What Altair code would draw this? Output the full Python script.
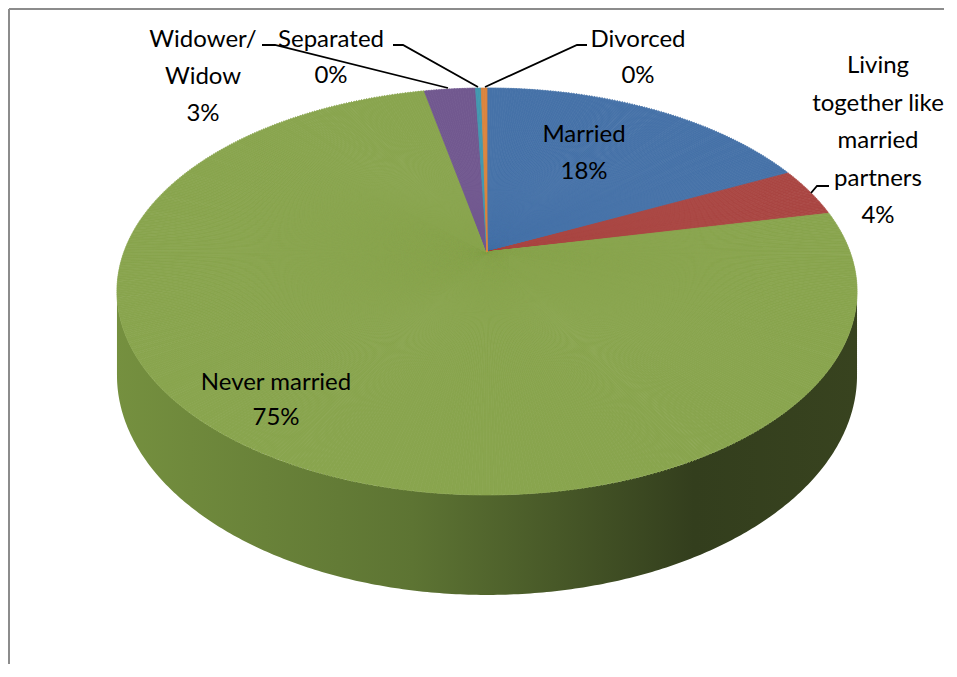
import numpy as np
import pandas as pd
import altair as alt

# ---------------- data ----------------
categories = ["Married", "Living together like married partners", "Never married",
              "Widower/ Widow", "Separated", "Divorced"]
values = [17.8, 3.9, 75.0, 2.7, 0.3, 0.3]
pct_labels = ["18%", "4%", "75%", "3%", "0%", "0%"]
label_lines = [["Married"], ["Living", "together like", "married", "partners"],
               ["Never married"], ["Widower/", "Widow"], ["Separated"], ["Divorced"]]

# ---------------- style / layout ----------------
colors = ["#4672a8", "#aa4643", "#89a54e", "#71588f", "#4198af", "#db843d"]
APEX_X, APEX_Y = 487.0, 252.0      # projected centre of the pie
RX, RY, PERSP = 363.0, 195.8, 0.194  # ellipse radii and perspective factor
DEPTH = 80.6                        # thickness of the 3-D pie
label_anchor = [(584, 142), (878, 73), (276, 390), (203, 47), (331, 47), (638, 47)]
label_lh = [37, 37.5, 35, 37, 36, 36]
leaders = [
    [(262, 45), (275, 45), (448, 88)],
    [(393, 45), (403, 45), (478, 87)],
    [(587, 45), (577, 45), (485, 87)],
    [(811, 193), (817, 186), (829, 186)],
]
FONT = "Lato"
FSIZE = 24
W, H = 936, 656

XS = alt.Scale(domain=[8, 8 + W], zero=False, nice=False)
YS = alt.Scale(domain=[8, 8 + H], zero=False, nice=False, reverse=True)


def project(phi_deg):
    p = np.radians(phi_deg)
    u, v = np.sin(p), np.cos(p)
    den = 1 + PERSP * v
    return APEX_X + RX * u / den, APEX_Y - RY * v / den, v


def screen_angle(x, y):
    return np.degrees(np.arctan2(x - APEX_X, -(y - APEX_Y))) % 360


# ---- top face wedges ----
total = float(sum(values))
cum = np.concatenate([[0.0], np.cumsum(values)]) / total * 360.0
rows = []
for i, cat in enumerate(categories):
    a0, a1 = cum[i], cum[i + 1]
    n = max(2, int(np.ceil((a1 - a0) / 0.5)))
    edges = np.linspace(a0, a1, n + 1)
    for e0, e1 in zip(edges[:-1], edges[1:]):
        x0, y0, _ = project(e0)
        x1, y1, _ = project(e1)
        xm, ym, _ = project((e0 + e1) / 2)
        t0 = 0.0 if e0 <= 1e-9 else screen_angle(x0, y0)
        t1 = 360.0 if e1 >= 360 - 1e-9 else screen_angle(x1, y1)
        r = float(np.hypot(xm - APEX_X, ym - APEX_Y))
        rows.append({"cat": cat, "t0": t0, "t1": t1, "r": r, "ax": APEX_X, "ay": APEX_Y})
wedges = pd.DataFrame(rows)

# ---- side wall (visible front part) ----
phi_s = np.degrees(np.arccos(-PERSP))
phis = np.linspace(phi_s, 360 - phi_s, 300)
sx, sy, sv = project(phis)
side = pd.DataFrame({"x": sx, "ytop": sy, "ybot": sy + DEPTH / (1 + PERSP * sv)})

# ---- labels ----
trows = []
for i, lines in enumerate(label_lines):
    lx, ly = label_anchor[i]
    for j, t in enumerate(lines + [pct_labels[i]]):
        trows.append({"text": t, "x": lx, "y": ly + j * label_lh[i]})
texts = pd.DataFrame(trows)

lrows = []
for k, pts in enumerate(leaders):
    for j, (px, py) in enumerate(pts):
        lrows.append({"lid": k, "ord": j, "x": px, "y": py})
lead = pd.DataFrame(lrows)

frame = pd.DataFrame({"x": [9, 9], "y": [9, 9], "x2": [9, 960], "y2": [680, 9]})

cscale = alt.Scale(domain=categories, range=colors)

side_layer = alt.Chart(side).mark_area(
    orient="vertical",
    color=alt.Gradient(
        gradient="linear",
        stops=[alt.GradientStop(color="#75903f", offset=0),
               alt.GradientStop(color="#5d7433", offset=0.4),
               alt.GradientStop(color="#333e1d", offset=0.78),
               alt.GradientStop(color="#38431f", offset=1)],
        x1=0, x2=1, y1=0, y2=0),
).encode(
    x=alt.X("x:Q", scale=XS, axis=None),
    y=alt.Y("ybot:Q", scale=YS, axis=None),
    y2="ytop:Q",
)

pie_layer = alt.Chart(wedges).mark_arc(strokeWidth=0.8).encode(
    x=alt.X("ax:Q", scale=XS, axis=None),
    y=alt.Y("ay:Q", scale=YS, axis=None),
    theta=alt.Theta("t0:Q", scale=alt.Scale(domain=[0, 360], range=[0, 2 * np.pi])),
    theta2="t1:Q",
    radius=alt.Radius("r:Q", scale=alt.Scale(type="linear", domain=[0, 500], range=[0, 500], zero=True)),
    color=alt.Color("cat:N", scale=cscale, legend=None),
    stroke=alt.Stroke("cat:N", scale=cscale, legend=None),
)

lead_layer = alt.Chart(lead).mark_line(color="#000000", strokeWidth=1.8).encode(
    x=alt.X("x:Q", scale=XS, axis=None),
    y=alt.Y("y:Q", scale=YS, axis=None),
    detail="lid:N",
    order="ord:Q",
)

text_layer = alt.Chart(texts).mark_text(
    font=FONT, fontSize=FSIZE, color="#000000", align="center", baseline="alphabetic"
).encode(
    x=alt.X("x:Q", scale=XS, axis=None),
    y=alt.Y("y:Q", scale=YS, axis=None),
    text="text:N",
)

frame_layer = alt.Chart(frame).mark_rule(color="#8c8c8c", strokeWidth=2).encode(
    x=alt.X("x:Q", scale=XS, axis=None),
    y=alt.Y("y:Q", scale=YS, axis=None),
    x2="x2:Q",
    y2="y2:Q",
)

chart = alt.layer(side_layer, pie_layer, lead_layer, text_layer, frame_layer).properties(
    width=W, height=H, padding=0, autosize="none", background="white"
).configure_view(stroke=None)

chart.save("out.html", embed_options={"renderer": "svg", "actions": False})
